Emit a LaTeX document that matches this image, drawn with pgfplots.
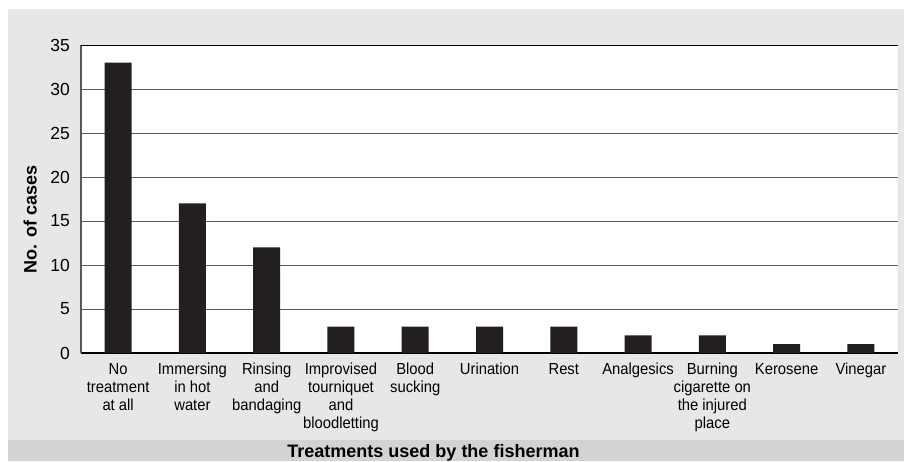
\documentclass[border=0pt]{standalone}
\usepackage{fontspec}
\setmainfont{Liberation Sans}
\newfontfamily\narrowfont[FakeStretch=0.925]{Liberation Sans}
\usepackage{pgfplots}
\pgfplotsset{compat=1.18}
\definecolor{panel}{HTML}{E6E7E8}
\definecolor{band}{HTML}{D1D3D4}
\definecolor{barblack}{HTML}{231F20}
\definecolor{gridgray}{HTML}{5A5A5A}
\begin{document}
\begin{tikzpicture}[x=1pt,y=1pt]
\useasboundingbox (0,0) rectangle (904,-461);
\fill[white] (0,0) rectangle (904,-461);
\fill[panel] (8,-9) rectangle (904,-440);
\fill[band] (8,-440) rectangle (904,-461);
\begin{axis}[
  at={(81pt,-45pt)}, anchor=north west,
  scale only axis, width=817pt, height=308pt,
  xmin=-0.5, xmax=10.5, ymin=0, ymax=35,
  ytick={0,5,...,35},
  xtick={0,...,10},
  xticklabels={{No\\treatment\\at all},{Immersing\\in hot\\water},{Rinsing\\and\\bandaging},{Improvised\\tourniquet\\and\\bloodletting},{Blood\\sucking},{Urination},{Rest},{Analgesics},{Burning\\cigarette on\\the injured\\place},{Kerosene},{Vinegar}},
  /pgf/number format/assume math mode=true,
  xticklabel style={align=center, font=\narrowfont\fontsize{16}{18}\selectfont, inner sep=0pt, yshift=-10pt},
  yticklabel style={font=\fontsize{17.5}{20}\selectfont, inner sep=0pt, xshift=-11pt},
  major tick length=0pt,
  axis background/.style={fill=white},
  axis x line*=bottom, axis y line*=left,
  x axis line style={-, black, line width=1.6pt},
  y axis line style={-, gray!70!black, line width=1.2pt},
  ymajorgrids, major grid style={gridgray, line width=0.9pt},
  ybar, bar width=27pt,
]
\addplot[fill=barblack, draw=none] coordinates {(0,33) (1,17) (2,12) (3,3) (4,3) (5,3) (6,3) (7,2) (8,2) (9,1) (10,1)};
\draw[black, line width=1.5pt] (rel axis cs:0,1) -- (rel axis cs:1,1);
\draw[gray!45, line width=1pt] (rel axis cs:1,0) -- (rel axis cs:1,1);
\end{axis}
\node[rotate=90, anchor=base, font=\bfseries\fontsize{18}{20}\selectfont, inner sep=0pt] at (36.5,-219.5) {No. of cases};
\node[anchor=base, font=\bfseries\fontsize{18}{20}\selectfont, inner sep=0pt] at (433.5,-457) {Treatments used by the fisherman};
\end{tikzpicture}
\end{document}
